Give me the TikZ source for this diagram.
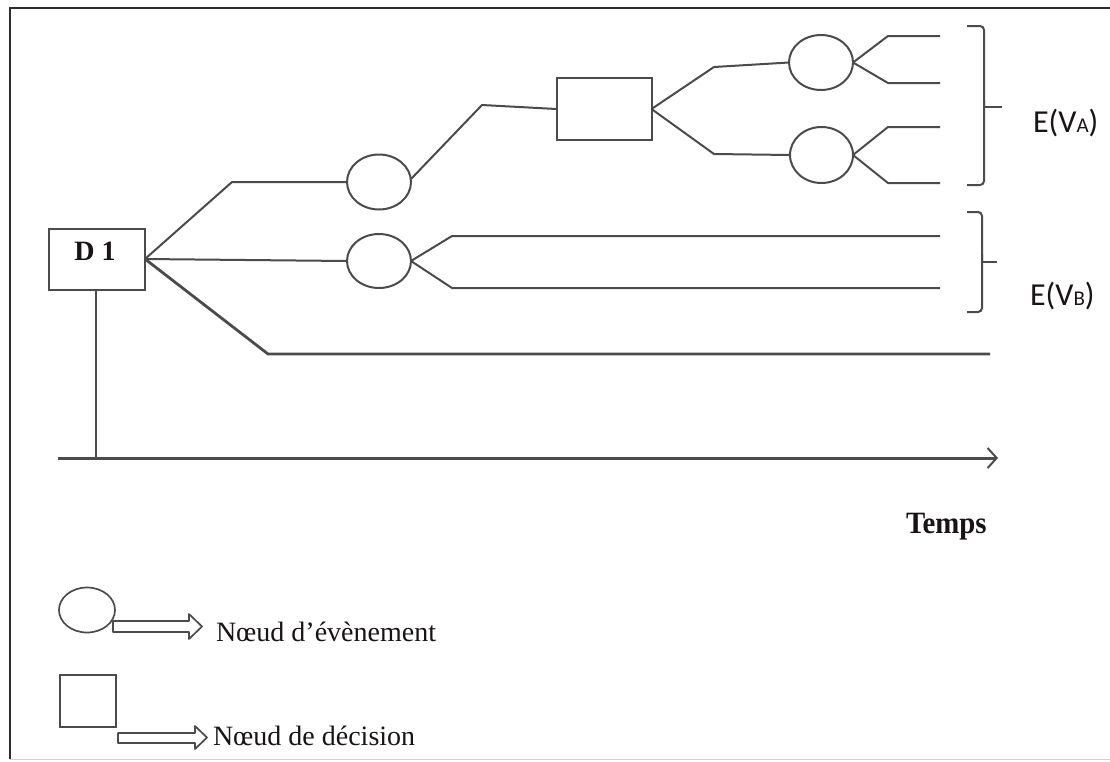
\documentclass[tikz,border=0pt]{standalone}
\usepackage{fontspec}
\setmainfont{Liberation Serif}
\newfontfamily\calfont{Carlito}
\usetikzlibrary{shapes.geometric,arrows.meta}
\definecolor{ln}{RGB}{75,75,75}
\definecolor{frm}{RGB}{45,45,45}
\definecolor{txt}{RGB}{25,20,20}
\tikzset{
  every node/.style={inner sep=0pt, outer sep=0pt},
  evt/.style={ellipse, draw=ln, line width=2pt, fill=white},
  dec/.style={rectangle, draw=ln, line width=2pt, fill=white},
  br/.style={draw=ln, line width=2pt},
  thick br/.style={draw=ln, line width=2.8pt},
  brace/.style={draw=ln, line width=2pt, rounded corners=4pt},
  legarrow/.style={draw=ln, line width=1.7pt, fill=white, line join=round},
  lbl/.style={text=txt, anchor=base west},
}
\begin{document}
\begin{tikzpicture}[x=1pt,y=-1pt]
\useasboundingbox (0,0) rectangle (1110,761);
% frame
\draw[frm, line width=2pt] (10,759) -- (10,8) -- (1110,8);
\draw[black!18, line width=1.5pt] (10,759.5) -- (1110,759.5);

% decision node D1
\node[dec, minimum width=96pt, minimum height=61pt] (D1) at (97,259) {};
\node[text=txt, font=\fontsize{28}{30}\selectfont\bfseries] (D1t) at (95,251) {D 1};
\coordinate (o) at (D1.east);

% first level event nodes
\node[evt, minimum width=64pt, minimum height=55pt] (e1) at (379,182) {};
\node[evt, minimum width=64pt, minimum height=54pt] (e2) at (379,261) {};
% second decision
\node[dec, minimum width=95pt, minimum height=62pt] (d2) at (604,109) {};
% second level event nodes
\node[evt, minimum width=64pt, minimum height=55pt] (e3) at (821,62.5) {};
\node[evt, minimum width=63pt, minimum height=56pt] (e4) at (821.5,155) {};

% branches from D1
\coordinate (b1) at (232,182);
\coordinate (b3) at (268,354);
\coordinate (b3e) at (990,354);
\draw[br] (o) -- (b1) -- (e1.west);
\draw[br] (o) -- (e2.west);
\draw[thick br] (o) -- (b3) -- (b3e);

% e1 -> d2
\coordinate (c1) at (482,105);
\draw[br] (e1.east) ++(0,-3) coordinate (e1o) (e1o) -- (c1) -- (d2.west);

% d2 -> e3, e4
\coordinate (c2) at (714,67);
\coordinate (c3) at (714,154);
\draw[br] (d2.east) -- (c2) -- (e3.west);
\draw[br] (d2.east) -- (c3) -- (e4.west);

% e3 outcomes
\coordinate (f1) at (888,36);  \coordinate (g1) at (940,36);
\coordinate (f2) at (888,83);  \coordinate (g2) at (940,83);
\draw[br] (e3.east) -- (f1) -- (g1);
\draw[br] (e3.east) -- (f2) -- (g2);
% e4 outcomes
\coordinate (f3) at (888,127); \coordinate (g3) at (940,127);
\coordinate (f4) at (888,183); \coordinate (g4) at (940,183);
\draw[br] (e4.east) -- (f3) -- (g3);
\draw[br] (e4.east) -- (f4) -- (g4);

% e2 outcomes
\coordinate (h1) at (452,236); \coordinate (k1) at (940,236);
\coordinate (h2) at (452,288); \coordinate (k2) at (940,288);
\draw[br] (e2.east) -- (h1) -- (k1);
\draw[br] (e2.east) -- (h2) -- (k2);

% braces
\draw[brace] (967,26) -| (984,107);
\draw[brace] (984,100) |- (967,185);
\draw[br] (984,107) -- (1002,107);
\node[lbl, font=\calfont\fontsize{32}{36}\selectfont] (EVA) at (1033,132) {E(V{\fontsize{21}{24}\selectfont A})};

\draw[brace] (967,212) -| (982,262);
\draw[brace] (982,255) |- (967,312);
\draw[br] (982,262) -- (997,262);
\node[lbl, font=\calfont\fontsize{32}{36}\selectfont] (EVB) at (1030,305) {E(V{\fontsize{21}{24}\selectfont B})};

% time axis
\coordinate (ax0) at (58,458);
\coordinate (ax1) at (998,458);
\draw[draw=ln, line width=3pt, -{Straight Barb[length=9pt,width=20pt,line width=2pt]}] (ax0) -- (ax1);
\coordinate (axD) at (96,458);
\draw[draw=ln, line width=1.6pt] (D1.south -| axD) -- (axD);
\node[lbl, font=\fontsize{31}{34}\selectfont\bfseries] (temps) at (906,533) {\scalebox{0.93}[1]{Temps}};

% legend
\node[evt, minimum width=56pt, minimum height=45pt, line width=1.7pt] (legE) at (87,610) {};
\draw[legarrow] (113,621) -- (189,621) -- (189,614) -- (202,626.5) -- (189,639) -- (189,632) -- (113,632) -- cycle;
\node[lbl, font=\fontsize{28}{30}\selectfont] (legEt) at (216,641) {Nœud d’évènement};

\node[dec, minimum width=56pt, minimum height=52pt, line width=1.7pt] (legD) at (88,701) {};
\draw[legarrow] (118,733) -- (195,733) -- (195,726) -- (207,737.5) -- (195,749) -- (195,743) -- (118,743) -- cycle;
\node[lbl, font=\fontsize{28}{30}\selectfont] (legDt) at (213,745) {Nœud de décision};
\end{tikzpicture}
\end{document}
